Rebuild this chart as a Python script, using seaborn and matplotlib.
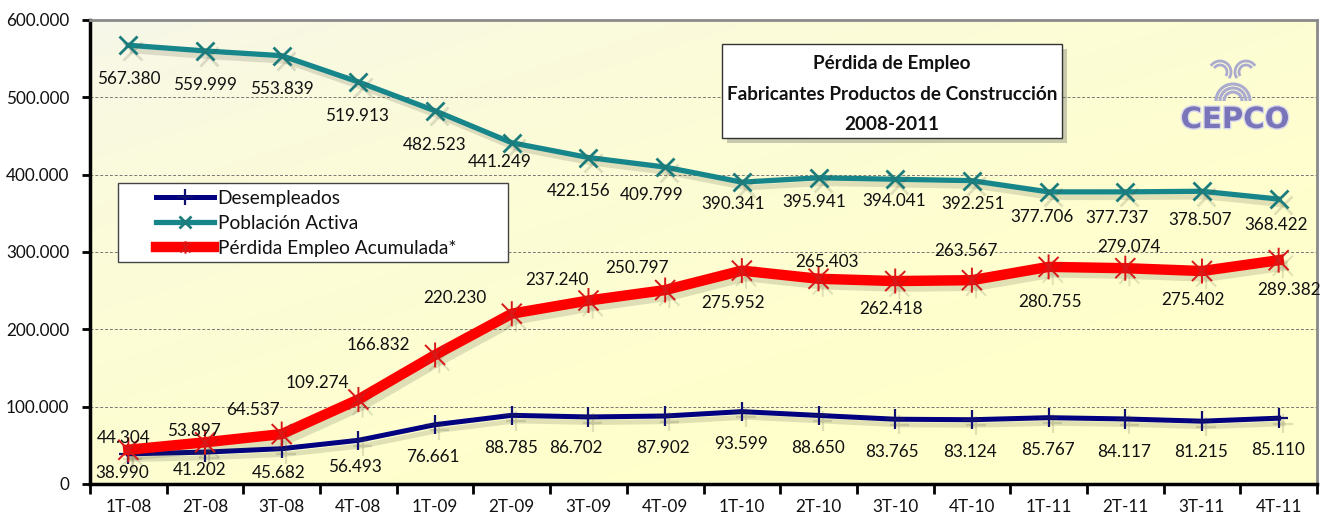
import numpy as np
import pandas as pd
import matplotlib
matplotlib.use("Agg")
import matplotlib.pyplot as plt
import seaborn as sns
from matplotlib.path import Path
from matplotlib.patches import Rectangle, Arc
import matplotlib.patheffects as pe
from matplotlib.ticker import FuncFormatter, FixedLocator

# ---------------- data ----------------
quarters = ["1T-08", "2T-08", "3T-08", "4T-08", "1T-09", "2T-09", "3T-09", "4T-09",
            "1T-10", "2T-10", "3T-10", "4T-10", "1T-11", "2T-11", "3T-11", "4T-11"]
desempleados = [38990, 41202, 45682, 56493, 76661, 88785, 86702, 87902,
                93599, 88650, 83765, 83124, 85767, 84117, 81215, 85110]
poblacion_activa = [567380, 559999, 553839, 519913, 482523, 441249, 422156, 409799,
                    390341, 395941, 394041, 392251, 377706, 377737, 378507, 368422]
perdida_empleo = [44304, 53897, 64537, 109274, 166832, 220230, 237240, 250797,
                  275952, 265403, 262418, 263567, 280755, 279074, 275402, 289382]
y_ticks = [0, 100000, 200000, 300000, 400000, 500000, 600000]
series_names = ["Desempleados", "Población Activa", "Pérdida Empleo Acumulada*"]
title_lines = ["Pérdida de Empleo", "Fabricantes Productos de Construcción", "2008-2011"]

# ---------------- label layout (pixel offsets, dy positive = down) ----------------
off_des = [(-6, 19), (-5, 18), (-3, 24), (-3, 27), (-2, 32), (-1, 33), (-13, 31), (-2, 32),
           (-1, 32), (-1, 33), (-3, 33), (-2, 32), (-1, 32), (-1, 33), (-1, 31), (-1, 32)]
off_pob = [(0, 34), (0, 34), (0, 33), (-1, 34), (0, 34), (-12, 19), (-10, 33), (-13, 28),
           (-9, 22), (-4, 24), (-1, 22), (1, 23), (-7, 25), (-8, 26), (-2, 29), (-3, 26)]
off_per = [(-5, -12), (-11, -11), (-29, -24), (-41, -16), (-57, -10), (-57, -16), (-32, -21),
           (-28, -22), (-9, 32), (8, -17), (-4, 28), (-6, -29), (1, 35), (4, -21), (-9, 29), (10, 30)]

W, H = 1322, 515
FONT = "Lato"
plt.rcParams["font.family"] = [FONT, "DejaVu Sans"]

def fx(px):
    return px / W

def fy(py):
    return 1 - py / H

df = pd.DataFrame({
    "idx": np.arange(len(quarters)),
    "quarter": quarters,
    "des": desempleados,
    "pob": poblacion_activa,
    "per": perdida_empleo,
})

fig = plt.figure(figsize=(W / 100, H / 100), dpi=100)
fig.patch.set_facecolor("white")
ax = fig.add_axes([fx(90), fy(484), fx(1317) - fx(90), fy(20) - fy(484)])
plt.rcParams["font.family"] = [FONT, "DejaVu Sans"]

# background gradient
n = 200
rr, cc = np.mgrid[0:n, 0:n] / (n - 1)
t = np.clip((rr * 1.2 + cc) / 1.6, 0, 1) ** 0.55
c0 = np.array([0.965, 0.965, 0.93])
c1 = np.array([1.0, 1.0, 0.80])
img = c0[None, None, :] * (1 - t[..., None]) + c1[None, None, :] * t[..., None]
ax.imshow(img, extent=[0, 1, 0, 1], transform=ax.transAxes, aspect="auto", zorder=-5)

shadow = [pe.SimpleLineShadow(offset=(3, -4), shadow_color="#444430", alpha=0.16), pe.Normal()]

star = Path([(-1, -1), (1, 1), (-1, 1), (1, -1), (0, -1.25), (0, 1.25)],
            [Path.MOVETO, Path.LINETO, Path.MOVETO, Path.LINETO, Path.MOVETO, Path.LINETO])

navy = "#000080"
teal = "#17868A"
red = "#FF0000"

sns.lineplot(data=df, x="idx", y="des", ax=ax, color=navy, linewidth=3.6,
             marker="+", markersize=14, markeredgewidth=1.6, markeredgecolor="#101070",
             label=series_names[0], path_effects=shadow, zorder=3)
sns.lineplot(data=df, x="idx", y="pob", ax=ax, color=teal, linewidth=3.8,
             marker="x", markersize=13, markeredgewidth=2.0, markeredgecolor="#1C7C7C",
             label=series_names[1], path_effects=shadow, zorder=4)
sns.lineplot(data=df, x="idx", y="per", ax=ax, color=red, linewidth=7.5,
             marker=star, markersize=18, markeredgewidth=1.4, markeredgecolor="#D81818",
             label=series_names[2], path_effects=shadow, zorder=5)

def fmt(v):
    return f"{int(v):,}".replace(",", ".")

for vals, offs in ((desempleados, off_des), (poblacion_activa, off_pob), (perdida_empleo, off_per)):
    for i, (v, (dx, dy)) in enumerate(zip(vals, offs)):
        ax.annotate(fmt(v), (i, v), xytext=(dx, -dy), textcoords="offset pixels",
                    ha="center", va="center", fontsize=12.3, color="#111111", zorder=6)

# axes styling
ax.set_xlim(-0.5, len(quarters) - 0.5)
ax.set_ylim(0, 600000)
ax.set_xlabel("")
ax.set_ylabel("")
ax.set_xticks(np.arange(len(quarters)))
ax.set_xticklabels(quarters)
ax.xaxis.set_minor_locator(FixedLocator(np.arange(-0.5, len(quarters), 1.0)))
ax.tick_params(axis="x", which="major", length=0, pad=11, labelsize=12.3, labelcolor="#111111")
ax.tick_params(axis="x", which="minor", length=7, width=2, direction="out", color="black")
ax.set_yticks(y_ticks)
ax.yaxis.set_major_formatter(FuncFormatter(lambda v, p: fmt(v)))
ax.tick_params(axis="y", length=6, width=2, direction="out", pad=9, labelsize=12.3,
               labelcolor="#111111")
ax.yaxis.grid(True, linestyle=(0, (3, 2)), color="#777777", linewidth=0.7)
ax.xaxis.grid(False)
ax.set_axisbelow(True)
for s in ("left", "bottom"):
    ax.spines[s].set_color("black")
    ax.spines[s].set_linewidth(2.5)
for s in ("top", "right"):
    ax.spines[s].set_color("#8a8a8a")
    ax.spines[s].set_linewidth(2.0)

# legend (box drawn inside the axes so the legend sits on top of it)
ax.add_patch(Rectangle((fx(118), fy(262)), fx(508) - fx(118), fy(183) - fy(262),
                       transform=fig.transFigure, facecolor="white", clip_on=False,
                       edgecolor="#444444", linewidth=1.0, zorder=9))
handles, labels = ax.get_legend_handles_labels()
leg = ax.legend(handles, labels, loc="upper left",
                bbox_to_anchor=(fx(156), fy(190)), bbox_transform=fig.transFigure,
                frameon=False, fontsize=13.8, handlelength=3.0, handletextpad=0.22,
                labelspacing=0.42, borderpad=0, borderaxespad=0, numpoints=1)
for txt in leg.get_texts():
    txt.set_color("#111111")
for h, ms in zip(leg.legend_handles, (11, 9, 9)):
    h.set_path_effects([])
    h.set_markersize(ms)
leg.set_zorder(10)

# title box
ax.add_patch(Rectangle((fx(727), fy(143)), fx(1062) - fx(722), fy(44) - fy(138),
                       transform=fig.transFigure, facecolor="#555555", alpha=0.3,
                       edgecolor="none", clip_on=False, zorder=9))
ax.add_patch(Rectangle((fx(722), fy(138)), fx(1062) - fx(722), fy(44) - fy(138),
                       transform=fig.transFigure, facecolor="white", clip_on=False,
                       edgecolor="#333333", linewidth=1.0, zorder=9.5))
for k, line in enumerate(title_lines):
    fig.text(fx(892), fy(64 + 30 * k), line, ha="center", va="center", fontsize=13.6,
             fontweight="bold", color="#111111", zorder=4)

# CEPCO logo (approximation)
logo_col = "#ABABD0"
for r in (9, 13, 17):
    fig.patches.append(Arc((fx(1233), fy(101)), 2 * r / W, 2 * r / H, theta1=0, theta2=180,
                           transform=fig.transFigure, color=logo_col, linewidth=2.2, zorder=2))
for cxp, t1, t2 in ((1220, 300, 120), (1246, 60, 240)):
    for r in (7, 11):
        fig.patches.append(Arc((fx(cxp), fy(72)), 2 * r / W, 2 * r / H, theta1=t1, theta2=t2,
                               transform=fig.transFigure, color=logo_col, linewidth=2.0, zorder=2))
fig.text(fx(1235), fy(120), "CEPCO", ha="center", va="center", fontsize=21,
         fontweight="bold", family="DejaVu Sans", color="#7A74B8",
         path_effects=[pe.withStroke(linewidth=2, foreground="#D8D8EC")], zorder=3)

fig.savefig("out.png", dpi=100, facecolor="white")
